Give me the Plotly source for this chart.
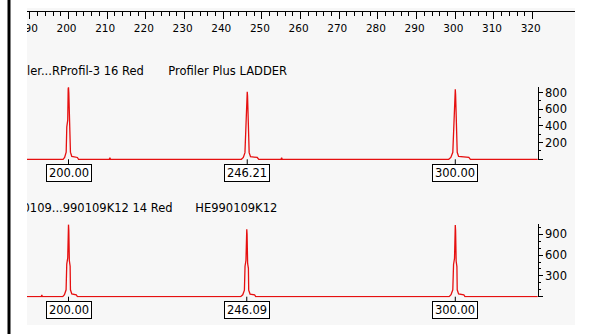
import plotly.graph_objects as go

W, H = 592, 334

# Ladder lane: fragment size (bp) and signal (RFU)
ladder_size = [
    189.00,
    198.60, 199.00, 199.40, 199.56, 199.80, 199.92, 200.00, 200.08, 200.22, 200.42, 200.50, 200.85, 202.30, 202.60,
    210.55, 210.70, 210.85,
    244.70, 245.20, 245.62, 245.78, 246.01, 246.13, 246.21, 246.29, 246.43, 246.63, 246.71, 247.06, 248.80, 249.20,
    254.95, 255.10, 255.25,
    298.30, 298.85, 299.36, 299.55, 299.79, 299.92, 300.00, 300.08, 300.22, 300.42, 300.50, 300.85, 303.50, 303.90,
    321.30,
]
ladder_rfu = [
    0,
    0, 22, 86, 390, 470, 845, 864, 800, 430, 365, 86, 35, 22, 0,
    0, 18, 0,
    0, 22, 80, 360, 440, 790, 811, 760, 400, 340, 80, 32, 22, 0,
    0, 18, 0,
    0, 22, 84, 380, 460, 820, 840, 780, 420, 355, 84, 34, 24, 0,
    0,
]

# Sample lane: fragment size (bp) and signal (RFU)
sample_size = [
    189.00,
    192.95, 193.10, 193.25,
    198.50, 198.95, 199.38, 199.55, 199.80, 199.92, 200.00, 200.08, 200.22, 200.42, 200.50, 200.85, 202.00, 202.30,
    244.50, 245.05, 245.48, 245.64, 245.88, 246.01, 246.09, 246.17, 246.31, 246.51, 246.59, 246.94, 248.10, 248.40,
    298.40, 298.90, 299.36, 299.55, 299.80, 299.92, 300.00, 300.08, 300.22, 300.42, 300.50, 300.85, 302.20, 302.50,
    321.30,
]
sample_rfu = [
    0,
    0, 25, 0,
    0, 28, 100, 470, 560, 1015, 1040, 960, 520, 440, 100, 40, 28, 0,
    0, 28, 95, 440, 525, 950, 973, 900, 480, 410, 95, 38, 28, 0,
    0, 28, 100, 465, 555, 1010, 1035, 955, 515, 435, 100, 40, 28, 0,
    0,
]

# Called peak sizes
ladder_peaks = [200.00, 246.21, 300.00]
sample_peaks = [200.00, 246.09, 300.00]

# Lane titles
ladder_titles = ["ler...RProfil-3 16 Red", "Profiler Plus LADDER"]
sample_titles = ["0109...990109K12 14 Red", "HE990109K12"]

# Ruler and intensity scales
ruler_ticks = list(range(190, 321, 10))
ruler_minor = list(range(190, 321, 2))
ladder_yticks = [0, 200, 400, 600, 800]
ladder_yminor = [100, 300, 500, 700]
sample_yticks = [0, 300, 600, 900]
sample_yminor = [100, 200, 400, 500, 700, 800, 1000]


def fx(px):
    return px / W


def fy(px):
    return 1 - px / H


FONT = "DejaVu Sans"
RED = "rgb(230,16,16)"
X_RANGE = [189.27, 330.95]
AXIS_X = fx(537.7)
PANEL_L, PANEL_R, PANEL_T, PANEL_B = 27, 575, 8, 325

fig = go.Figure()

fig.add_trace(go.Scatter(x=ladder_size, y=ladder_rfu, mode="lines",
                         line=dict(color=RED, width=1.3), xaxis="x", yaxis="y",
                         hoverinfo="skip", showlegend=False))
fig.add_trace(go.Scatter(x=sample_size, y=sample_rfu, mode="lines",
                         line=dict(color=RED, width=1.3), xaxis="x", yaxis="y2",
                         hoverinfo="skip", showlegend=False))

# Lane titles, placed on a pixel-unit frame that clips them at the panel edge
fig.add_trace(go.Scatter(x=[27.0, 168.3], y=[72, 72], mode="text",
                         text=ladder_titles, textposition="middle right",
                         textfont=dict(family=FONT, size=11.5, color="black"),
                         cliponaxis=True, xaxis="x3", yaxis="y3",
                         hoverinfo="skip", showlegend=False))
fig.add_trace(go.Scatter(x=[22.5, 195.3], y=[209.3, 209.3], mode="text",
                         text=sample_titles, textposition="middle right",
                         textfont=dict(family=FONT, size=11.5, color="black"),
                         cliponaxis=True, xaxis="x3", yaxis="y3",
                         hoverinfo="skip", showlegend=False))

# Peak size labels
annotations = []
for peaks, yref in ((ladder_peaks, "y"), (sample_peaks, "y2")):
    for p in peaks:
        annotations.append(dict(
            x=p, y=0, xref="x", yref=yref, text=f"{p:.2f}",
            showarrow=True, arrowhead=0, arrowwidth=1, arrowcolor="black",
            ax=0, ay=13.5, standoff=0,
            font=dict(family=FONT, size=11.5, color="black"),
            bgcolor="white", bordercolor="black", borderwidth=1, borderpad=1,
            width=42, height=14,
        ))

shapes = [
    # panel background
    dict(type="rect", xref="paper", yref="paper", x0=fx(PANEL_L), x1=fx(PANEL_R),
         y0=fy(PANEL_B), y1=fy(PANEL_T),
         fillcolor="#f7f7f7", line=dict(width=0), layer="below"),
    # left margin
    dict(type="rect", xref="paper", yref="paper", x0=0, x1=fx(PANEL_L), y0=0, y1=1,
         fillcolor="white", line=dict(width=0), layer="above"),
    # window edge
    dict(type="rect", xref="paper", yref="paper", x0=fx(7.5), x1=fx(10.5), y0=0, y1=1,
         fillcolor="black", line=dict(width=0), layer="above"),
]

fig.update_layout(
    width=W, height=H, margin=dict(l=0, r=0, t=0, b=0, autoexpand=False),
    paper_bgcolor="white", plot_bgcolor="rgba(0,0,0,0)",
    font=dict(family=FONT, color="black"),
    showlegend=False,
    annotations=annotations, shapes=shapes,
    xaxis=dict(
        domain=[fx(PANEL_L), fx(PANEL_R)], range=X_RANGE, anchor="free", position=fy(11),
        side="bottom", showline=True, linecolor="black", linewidth=1,
        showgrid=False, zeroline=False, automargin=False,
        ticks="outside", ticklen=7, tickwidth=1, tickcolor="black",
        tickvals=ruler_ticks, ticktext=[str(v) for v in ruler_ticks],
        tickfont=dict(family=FONT, size=10.5, color="black"),
        ticklabelshift=-2,
        minor=dict(tickvals=ruler_minor, ticks="outside", ticklen=4, tickwidth=1, tickcolor="black"),
    ),
    yaxis=dict(
        domain=[fy(159.3 + 0.67), fy(159.3 - 872 * 0.0833)], range=[-8, 872],
        anchor="free", position=AXIS_X, side="right",
        showline=True, linecolor="black", linewidth=1,
        showgrid=False, zeroline=False, automargin=False,
        ticks="outside", ticklen=4, tickwidth=1, tickcolor="black",
        tickvals=ladder_yticks, ticktext=["" if v == 0 else str(v) for v in ladder_yticks],
        tickfont=dict(family=FONT, size=11.5, color="black"),
        minor=dict(tickvals=ladder_yminor, ticks="outside", ticklen=2, tickwidth=1, tickcolor="black"),
    ),
    yaxis2=dict(
        domain=[fy(296.7 + 0.69), fy(296.7 - 1045 * 0.0693)], range=[-10, 1045],
        anchor="free", position=AXIS_X, side="right",
        showline=True, linecolor="black", linewidth=1,
        showgrid=False, zeroline=False, automargin=False,
        ticks="outside", ticklen=4, tickwidth=1, tickcolor="black",
        tickvals=sample_yticks, ticktext=["" if v == 0 else str(v) for v in sample_yticks],
        tickfont=dict(family=FONT, size=11.5, color="black"),
        minor=dict(tickvals=sample_yminor, ticks="outside", ticklen=2, tickwidth=1, tickcolor="black"),
    ),
    xaxis3=dict(domain=[fx(PANEL_L), fx(PANEL_R)], range=[PANEL_L, PANEL_R],
                anchor="y3", visible=False, automargin=False),
    yaxis3=dict(domain=[fy(PANEL_B), fy(PANEL_T)], range=[PANEL_B, PANEL_T],
                anchor="x3", visible=False, automargin=False),
)

fig.write_html("out.html")
